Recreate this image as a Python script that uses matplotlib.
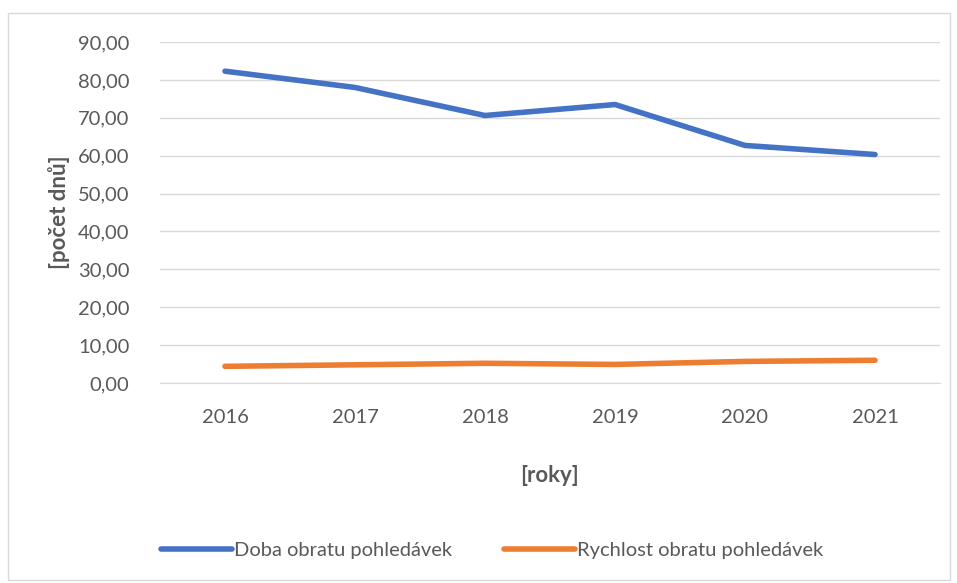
import matplotlib
matplotlib.use("Agg")
import matplotlib.pyplot as plt
from matplotlib.patches import Rectangle
from matplotlib.ticker import FuncFormatter

years = ["2016", "2017", "2018", "2019", "2020", "2021"]
doba = [82.3, 78.0, 70.6, 73.5, 62.7, 60.3]
rychlost = [4.4, 4.8, 5.2, 4.9, 5.7, 6.0]

plt.rcParams['font.family'] = ['Lato', 'DejaVu Sans']
grey = '#595959'

fig = plt.figure(figsize=(9.57, 5.83), dpi=100)
ax = fig.add_axes([160/957, 1-383/583, 780/957, (383-42)/583])

x = list(range(len(years)))
l1, = ax.plot(x, doba, color='#4472C4', lw=4, solid_capstyle='round', label='Doba obratu pohledávek')
l2, = ax.plot(x, rychlost, color='#ED7D31', lw=4, solid_capstyle='round', label='Rychlost obratu pohledávek')

ax.set_xlim(-0.5, len(years)-0.5)
ax.set_ylim(0, 90)
ax.set_yticks(range(0, 91, 10))
ax.yaxis.set_major_formatter(FuncFormatter(lambda v, p: f"{v:.2f}".replace('.', ',')))
ax.set_xticks(x)
ax.set_xticklabels(years)
ax.grid(axis='y', color='#D9D9D9', lw=1)
ax.set_axisbelow(True)
for s in ['top', 'right', 'left']:
    ax.spines[s].set_visible(False)
ax.spines['bottom'].set_color('#D9D9D9')
ax.tick_params(axis='both', length=0, labelsize=14.5, colors=grey)
ax.tick_params(axis='x', pad=19)
ax.tick_params(axis='y', pad=22)

ax.set_xlabel('[roky]', fontsize=16, fontweight='bold', color=grey, labelpad=28)
ax.set_ylabel('[počet dnů]', fontsize=16, fontweight='bold', color=grey, labelpad=6)

fig.legend(handles=[l1, l2], loc='center', bbox_to_anchor=(492/957, 1-550/583), ncol=2,
           frameon=False, fontsize=14.5, labelcolor=grey, handlelength=3.5, handletextpad=0.1,
           columnspacing=2.6)

fig.patches.append(Rectangle((8/957, 1-580/583), 942/957, 567/583, transform=fig.transFigure,
                             fill=False, edgecolor='#D9D9D9', lw=1))
fig.savefig('out.png', dpi=100)
